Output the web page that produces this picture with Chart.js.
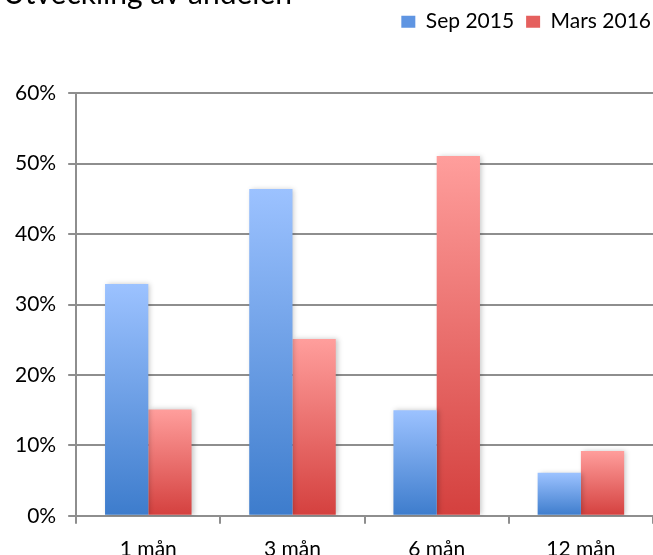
<!DOCTYPE html>
<html>
<head>
<meta charset="utf-8">
<script src="https://cdn.jsdelivr.net/npm/chart.js@4"></script>
<style>
  html, body { margin: 0; padding: 0; background: #fff; }
  #wrap { width: 653px; height: 555px; overflow: hidden; position: relative; }
  #box { position: absolute; left: 0; top: -8px; width: 653px; height: 583px; }
</style>
</head>
<body>
<div id="wrap"><div id="box"><canvas id="chart"></canvas></div></div>
<script>
// data
const categories = ['1 mån', '3 mån', '6 mån', '12 mån'];
const sep2015 = [32.9, 46.4, 15.0, 6.1];
const mars2016 = [15.1, 25.1, 51.1, 9.2];
const seriesNames = ['Sep 2015', 'Mars 2016'];
const yMax = 60;
const yStep = 10;
const titleText = 'Utveckling av andelen';

const FONT = 'Lato, "Liberation Sans", sans-serif';

// gradient per bar, light at the top, dark at the bottom
function barFill(light, dark) {
    return (ctx) => {
        const chart = ctx.chart;
        const y = chart.scales.y;
        if (!chart.chartArea || !y || ctx.raw == null) return dark;
        const top = y.getPixelForValue(ctx.raw);
        const bottom = y.getPixelForValue(0);
        const g = chart.ctx.createLinearGradient(0, top, 0, bottom);
        g.addColorStop(0, light);
        g.addColorStop(1, dark);
        return g;
    };
}

// extra room under the legend, and nudge it to the right edge
const legendMargin = {
    id: 'legendMargin',
    beforeInit(chart) {
        const fit = chart.legend.fit;
        chart.legend.fit = function () {
            fit.bind(chart.legend)();
            this.height += 54;
        };
    },
    afterLayout(chart) {
        chart.legend.left += 10;
        chart.legend.right += 10;
        chart.legend.top += 3;
        chart.legend.bottom += 3;
    }
};

const barShadow = {
    id: 'barShadow',
    beforeDatasetsDraw(chart) {
        const c = chart.ctx;
        c.save();
        c.shadowColor = 'rgba(0,0,0,0.22)';
        c.shadowBlur = 5;
        c.shadowOffsetX = 2;
        c.shadowOffsetY = 0;
    },
    afterDatasetsDraw(chart) {
        chart.ctx.restore();
    }
};

new Chart(document.getElementById('chart'), {
    type: 'bar',
    data: {
        labels: categories,
        datasets: [
            {
                label: seriesNames[0],
                data: sep2015,
                backgroundColor: barFill('#9cc2ff', '#3d7ccc'),
                borderWidth: 0,
                barPercentage: 1,
                categoryPercentage: 0.6,
            },
            {
                label: seriesNames[1],
                data: mars2016,
                backgroundColor: barFill('#ff9e9c', '#d4403e'),
                borderWidth: 0,
                barPercentage: 1,
                categoryPercentage: 0.6,
            }
        ]
    },
    options: {
        responsive: true,
        maintainAspectRatio: false,
        animation: false,
        layout: { padding: { left: 3, right: 0, top: 0, bottom: 0 } },
        plugins: {
            title: {
                display: true,
                text: titleText,
                align: 'start',
                color: '#000',
                font: { family: FONT, size: 30, weight: 'normal', lineHeight: 0.14 },
                padding: { top: 0, bottom: 0 }
            },
            legend: {
                position: 'top',
                align: 'end',
                labels: {
                    color: '#000',
                    font: { family: FONT, size: 21 },
                    boxWidth: 14,
                    boxHeight: 12,
                    padding: 12,
                    generateLabels(chart) {
                        const solid = ['#5f95e2', '#e5605e'];
                        return chart.data.datasets.map((ds, i) => ({
                            text: ds.label,
                            fillStyle: solid[i],
                            strokeStyle: solid[i],
                            lineWidth: 0,
                            datasetIndex: i,
                            fontColor: '#000'
                        }));
                    }
                }
            },
            tooltip: { enabled: false }
        },
        scales: {
            x: {
                grid: {
                    drawOnChartArea: false,
                    drawTicks: true,
                    tickLength: 8,
                    color: '#8e8e8e',
                    lineWidth: 2
                },
                border: { color: '#8e8e8e', width: 2 },
                ticks: {
                    color: '#000',
                    font: { family: FONT, size: 21 },
                    padding: 13
                }
            },
            y: {
                min: 0,
                max: yMax,
                grid: {
                    color: '#8e8e8e',
                    lineWidth: 2,
                    tickLength: 8
                },
                border: { color: '#8e8e8e', width: 2 },
                ticks: {
                    stepSize: yStep,
                    color: '#000',
                    font: { family: FONT, size: 21 },
                    padding: 12,
                    callback: (v) => v + '%'
                }
            }
        }
    },
    plugins: [legendMargin, barShadow]
});
</script>
</body>
</html>
